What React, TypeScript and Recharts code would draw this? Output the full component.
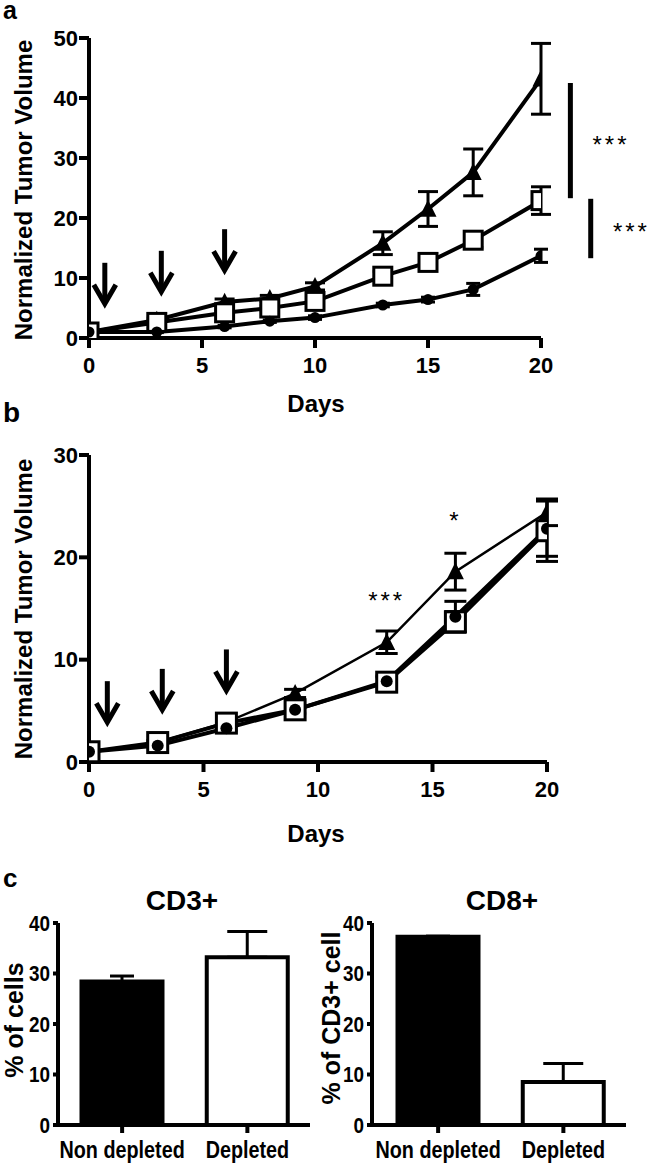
import React from 'react';
import {
  LineChart, Line, XAxis, YAxis, ErrorBar, ReferenceLine, ReferenceDot,
  BarChart, Bar, Label,
} from 'recharts';

const FONT = "'Liberation Sans', Arial, sans-serif";

// ---------- Panel a ----------
const daysA = [0, 3, 6, 8, 10, 13, 15, 17, 20];
const triA = [1, 3.0, 6.0, 6.6, 8.6, 15.8, 21.5, 27.6, 43.2];
const triAErr = [0, 0.3, 0.5, 0.5, 0.6, 1.9, 2.9, 3.9, 5.9];
const sqA = [1, 2.6, 4.2, 5.0, 6.1, 10.3, 12.6, 16.3, 22.9];
const sqAErr = [0, 0.2, 0.3, 0.4, 0.5, 0.8, 1.0, 1.2, 2.3];
const circA = [1, 1.0, 1.9, 2.8, 3.4, 5.5, 6.4, 8.1, 13.7];
const circAErr = [0, 0.1, 0.2, 0.2, 0.3, 0.3, 0.4, 1.0, 1.1];
const ticksAX = [0, 5, 10, 15, 20];
const ticksAY = [0, 10, 20, 30, 40, 50];
const arrowDaysA = [0.7, 3.2, 6.0];
const arrowTipsA = [5.2, 7.2, 10.8];

// ---------- Panel b ----------
const daysB = [0, 3, 6, 9, 13, 16, 20];
const triB = [1, 1.9, 3.9, 6.7, 11.7, 18.6, 24.4];
const triBErr = [0, 0.2, 0.3, 0.4, 1.1, 1.8, 1.3];
const sqB = [1, 1.9, 3.8, 5.1, 7.8, 13.7, 22.6];
const sqBErr = [0, 0.2, 0.3, 0.4, 0.6, 1.0, 3.0];
const circB = [1, 1.6, 3.3, 5.1, 7.9, 14.2, 22.8];
const circBErr = [0, 0.1, 0.2, 0.3, 0.4, 1.5, 2.7];
const ticksBX = [0, 5, 10, 15, 20];
const ticksBY = [0, 10, 20, 30];
const arrowDaysB = [0.8, 3.2, 6.0];
const arrowTipsB = [3.6, 4.8, 6.7];

// ---------- Panel c ----------
const groups = ['Non depleted', 'Depleted'];
const cd3 = [28.4, 33.2];
const cd3Err = [1.1, 5.1];
const cd8 = [37.3, 8.5];
const cd8Err = [0.1, 3.7];
const ticksC = [0, 10, 20, 30, 40];

const dataA = daysA.map((d, i) => ({
  day: d, tri: triA[i], triErr: triAErr[i], sq: sqA[i], sqErr: sqAErr[i], circ: circA[i], circErr: circAErr[i],
}));
const dataB = daysB.map((d, i) => ({
  day: d, tri: triB[i], triErr: triBErr[i], sq: sqB[i], sqErr: sqBErr[i], circ: circB[i], circErr: circBErr[i],
}));
// first group drawn as filled bar, second as open bar
const barRows = (vals: number[], errs: number[]) => groups.map((g, i) => ({
  name: g,
  filled: i === 0 ? vals[i] : null,
  filledErr: i === 0 ? [0, errs[i]] : null,
  open: i === 1 ? vals[i] : null,
  openErr: i === 1 ? [0, errs[i]] : null,
}));
const dataCD3 = barRows(cd3, cd3Err);
const dataCD8 = barRows(cd8, cd8Err);

const triDot = (size: number) => (p: any) => {
  const { cx, cy, index } = p;
  if (cx == null || cy == null) return <g key={`t${index}`} />;
  return (
    <polygon
      key={`t${index}`}
      points={`${cx},${cy - size * 0.55} ${cx - size / 2},${cy + size * 0.45} ${cx + size / 2},${cy + size * 0.45}`}
      fill="#000"
    />
  );
};
const sqDot = (size: number) => (p: any) => {
  const { cx, cy, index } = p;
  if (cx == null || cy == null) return <g key={`s${index}`} />;
  return (
    <rect key={`s${index}`} x={cx - size / 2} y={cy - size / 2} width={size} height={size}
      fill="#fff" stroke="#000" strokeWidth={3} />
  );
};
const circDot = (r: number) => (p: any) => {
  const { cx, cy, index } = p;
  if (cx == null || cy == null) return <g key={`c${index}`} />;
  return <circle key={`c${index}`} cx={cx} cy={cy} r={r} fill="#000" />;
};

const arrowShape = (p: any) => {
  const { cx, cy } = p;
  return (
    <g>
      <line x1={cx} y1={cy - 44} x2={cx} y2={cy - 4} stroke="#000" strokeWidth={5} />
      <polyline points={`${cx - 11},${cy - 22} ${cx},${cy - 3} ${cx + 11},${cy - 22}`}
        fill="none" stroke="#000" strokeWidth={5} strokeLinejoin="miter" />
    </g>
  );
};

const starShape = (txt: string, size: number) => (p: any) => (
  <text x={p.cx} y={p.cy} textAnchor="middle" dominantBaseline="central"
    fontFamily={FONT} fontSize={size} fill="#000" letterSpacing={3}>{txt}</text>
);

// condensed tick labels for panel c
const CatTick = (p: any) => {
  const { x, y, payload } = p;
  return (
    <text transform={`translate(${x},${y}) scale(0.86,1)`} textAnchor="middle" dy="0.71em"
      fontFamily={FONT} fontSize={23} fontWeight={700} fill="#000">{payload.value}</text>
  );
};
const NumTickC = (p: any) => {
  const { x, y, payload } = p;
  return (
    <text transform={`translate(${x},${y}) scale(0.86,1)`} textAnchor="end" dy="0.36em"
      fontFamily={FONT} fontSize={22} fontWeight={700} fill="#000">{payload.value}</text>
  );
};

const numTick = { fill: '#000', fontSize: 22, fontWeight: 700, fontFamily: FONT };
const axisStyle = { stroke: '#000', strokeWidth: 4 };

export default function App() {
  return (
    <div style={{ position: 'absolute', left: 0, top: 0, width: 652, height: 1166, background: '#fff', overflow: 'hidden' }}>
      {/* Panel a */}
      <div style={{ position: 'absolute', left: 0, top: 0 }}>
        <LineChart width={652} height={425} data={dataA} margin={{ top: 38, right: 111, bottom: 47, left: 29 }}>
          <XAxis dataKey="day" type="number" domain={[0, 20]} ticks={ticksAX} allowDataOverflow interval={0}
            axisLine={axisStyle} tickLine={axisStyle} tickSize={10} tickMargin={9} tick={numTick} height={40}>
            <Label value="Days" content={() => (
              <text x={316} y={412} textAnchor="middle" fontFamily={FONT} fontSize={24} fontWeight={700} fill="#000">Days</text>
            )} />
          </XAxis>
          <YAxis type="number" domain={[0, 50]} ticks={ticksAY} allowDataOverflow interval={0} width={60}
            axisLine={axisStyle} tickLine={axisStyle} tickSize={10} tickMargin={1} tick={numTick}>
            <Label value="Normalized Tumor Volume" content={() => (
              <g>
                <text x={3} y={19} fontFamily={FONT} fontSize={25} fontWeight={700} fill="#000">a</text>
                <text x={23} y={190} transform="rotate(-90 23 190)" textAnchor="middle" dominantBaseline="central"
                  fontFamily={FONT} fontSize={24} fontWeight={700} fill="#000">Normalized Tumor Volume</text>
              </g>
            )} />
          </YAxis>
          <Line dataKey="tri" type="linear" stroke="#000" strokeWidth={4} isAnimationActive={false}
            dot={triDot(17)} activeDot={false}>
            <ErrorBar dataKey="triErr" direction="y" width={10} stroke="#000" strokeWidth={3} />
          </Line>
          <Line dataKey="sq" type="linear" stroke="#000" strokeWidth={4} isAnimationActive={false}
            dot={sqDot(18)} activeDot={false}>
            <ErrorBar dataKey="sqErr" direction="y" width={10} stroke="#000" strokeWidth={3} />
          </Line>
          <Line dataKey="circ" type="linear" stroke="#000" strokeWidth={4} isAnimationActive={false}
            dot={circDot(5.5)} activeDot={false}>
            <ErrorBar dataKey="circErr" direction="y" width={7} stroke="#000" strokeWidth={3} />
          </Line>
          {arrowDaysA.map((d, i) => (
            <ReferenceDot key={`aa${i}`} x={d} y={arrowTipsA[i]} ifOverflow="visible" shape={arrowShape} />
          ))}
          <ReferenceLine segment={[{ x: 21.3, y: 42.5 }, { x: 21.3, y: 23.3 }]} stroke="#000" strokeWidth={5} ifOverflow="visible" />
          <ReferenceLine segment={[{ x: 22.2, y: 23.2 }, { x: 22.2, y: 13.3 }]} stroke="#000" strokeWidth={5} ifOverflow="visible" />
          <ReferenceDot x={23.1} y={32.2} ifOverflow="visible" shape={starShape('***', 24)} />
          <ReferenceDot x={24.0} y={17.8} ifOverflow="visible" shape={starShape('***', 24)} />
        </LineChart>
      </div>

      {/* Panel b */}
      <div style={{ position: 'absolute', left: 0, top: 392 }}>
        <LineChart width={652} height={458} data={dataB} margin={{ top: 63, right: 105, bottom: 48, left: 29 }}>
          <XAxis dataKey="day" type="number" domain={[0, 20]} ticks={ticksBX} allowDataOverflow interval={0}
            axisLine={axisStyle} tickLine={axisStyle} tickSize={10} tickMargin={9} tick={numTick} height={40}>
            <Label value="Days" content={() => (
              <text x={316} y={450} textAnchor="middle" fontFamily={FONT} fontSize={24} fontWeight={700} fill="#000">Days</text>
            )} />
          </XAxis>
          <YAxis type="number" domain={[0, 30]} ticks={ticksBY} allowDataOverflow interval={0} width={60}
            axisLine={axisStyle} tickLine={axisStyle} tickSize={10} tickMargin={1} tick={numTick}>
            <Label value="Normalized Tumor Volume" content={() => (
              <g>
                <text x={3} y={30} fontFamily={FONT} fontSize={28} fontWeight={700} fill="#000">b</text>
                <text x={23} y={217} transform="rotate(-90 23 217)" textAnchor="middle" dominantBaseline="central"
                  fontFamily={FONT} fontSize={24} fontWeight={700} fill="#000">Normalized Tumor Volume</text>
              </g>
            )} />
          </YAxis>
          <Line dataKey="tri" type="linear" stroke="#000" strokeWidth={2.5} isAnimationActive={false}
            dot={triDot(17)} activeDot={false}>
            <ErrorBar dataKey="triErr" direction="y" width={11} stroke="#000" strokeWidth={3} />
          </Line>
          <Line dataKey="sq" type="linear" stroke="#000" strokeWidth={4} isAnimationActive={false}
            dot={sqDot(20)} activeDot={false}>
            <ErrorBar dataKey="sqErr" direction="y" width={11} stroke="#000" strokeWidth={3} />
          </Line>
          <Line dataKey="circ" type="linear" stroke="#000" strokeWidth={4} isAnimationActive={false}
            dot={circDot(6)} activeDot={false}>
            <ErrorBar dataKey="circErr" direction="y" width={11} stroke="#000" strokeWidth={3} />
          </Line>
          {arrowDaysB.map((d, i) => (
            <ReferenceDot key={`ba${i}`} x={d} y={arrowTipsB[i]} ifOverflow="visible" shape={arrowShape} />
          ))}
          <ReferenceDot x={13.0} y={15.8} ifOverflow="visible" shape={starShape('***', 24)} />
          <ReferenceDot x={16.0} y={23.6} ifOverflow="visible" shape={starShape('*', 24)} />
        </LineChart>
      </div>

      {/* Panel c - CD3+ */}
      <div style={{ position: 'absolute', left: 0, top: 850 }}>
        <BarChart width={316} height={316} data={dataCD3} margin={{ top: 73, right: 6, bottom: 0, left: 0 }}>
          <XAxis dataKey="name" type="category" padding={{ left: 1.5, right: 0 }} height={41} interval={0}
            axisLine={axisStyle} tickLine={axisStyle} tickSize={8} tickMargin={9} tick={<CatTick />} />
          <YAxis type="number" domain={[0, 40]} ticks={ticksC} interval={0} width={58} allowDataOverflow
            axisLine={axisStyle} tickLine={axisStyle} tickSize={5} tickMargin={3} tick={<NumTickC />}>
            <Label value="% of cells" content={() => (
              <g>
                <text x={3} y={37} fontFamily={FONT} fontSize={26} fontWeight={700} fill="#000">c</text>
                <text x={182} y={60} textAnchor="middle" fontFamily={FONT} fontSize={28} fontWeight={700} fill="#000">CD3+</text>
                <text x={14} y={170} transform="rotate(-90 14 170)" textAnchor="middle" dominantBaseline="central"
                  fontFamily={FONT} fontSize={25} fontWeight={700} fill="#000">% of cells</text>
              </g>
            )} />
          </YAxis>
          <Bar dataKey="filled" stackId="s" barSize={81} isAnimationActive={false} fill="#000" stroke="#000" strokeWidth={4}>
            <ErrorBar dataKey="filledErr" direction="y" width={12} stroke="#000" strokeWidth={3} />
          </Bar>
          <Bar dataKey="open" stackId="s" barSize={81} isAnimationActive={false} fill="#fff" stroke="#000" strokeWidth={4}>
            <ErrorBar dataKey="openErr" direction="y" width={20} stroke="#000" strokeWidth={3} />
          </Bar>
        </BarChart>
      </div>

      {/* Panel c - CD8+ */}
      <div style={{ position: 'absolute', left: 316, top: 850 }}>
        <BarChart width={336} height={316} data={dataCD8} margin={{ top: 73, right: 26, bottom: 0, left: 0 }}>
          <XAxis dataKey="name" type="category" padding={{ left: 3.5, right: 0 }} height={41} interval={0}
            axisLine={axisStyle} tickLine={axisStyle} tickSize={8} tickMargin={9} tick={<CatTick />} />
          <YAxis type="number" domain={[0, 40]} ticks={ticksC} interval={0} width={56} allowDataOverflow
            axisLine={axisStyle} tickLine={axisStyle} tickSize={5} tickMargin={3} tick={<NumTickC />}>
            <Label value="% of CD3+ cell" content={() => (
              <g>
                <text x={186} y={60} textAnchor="middle" fontFamily={FONT} fontSize={28} fontWeight={700} fill="#000">CD8+</text>
                <text x={15} y={168} transform="rotate(-90 15 168)" textAnchor="middle" dominantBaseline="central"
                  fontFamily={FONT} fontSize={25} fontWeight={700} fill="#000">% of CD3+ cell</text>
              </g>
            )} />
          </YAxis>
          <Bar dataKey="filled" stackId="s" barSize={81} isAnimationActive={false} fill="#000" stroke="#000" strokeWidth={4}>
            <ErrorBar dataKey="filledErr" direction="y" width={12} stroke="#000" strokeWidth={3} />
          </Bar>
          <Bar dataKey="open" stackId="s" barSize={81} isAnimationActive={false} fill="#fff" stroke="#000" strokeWidth={4}>
            <ErrorBar dataKey="openErr" direction="y" width={20} stroke="#000" strokeWidth={3} />
          </Bar>
        </BarChart>
      </div>
    </div>
  );
}
